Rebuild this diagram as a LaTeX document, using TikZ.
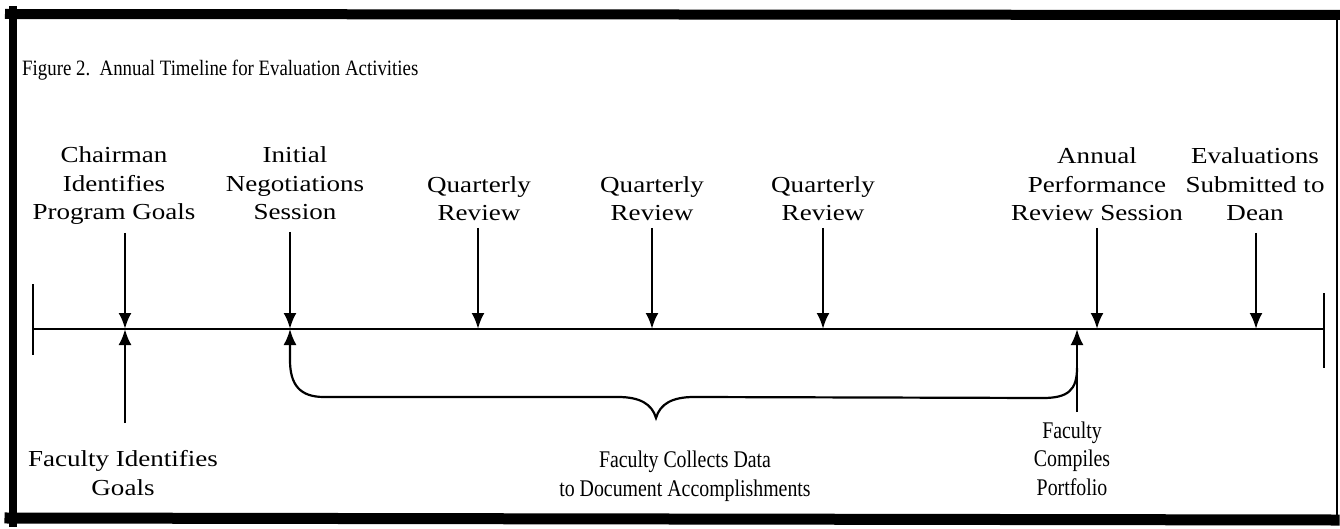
\documentclass[tikz,border=0pt]{standalone}
\usepackage{fontspec}
\setmainfont{Liberation Serif}
\newfontfamily\titlefont[FakeStretch=0.86]{Liberation Serif}
\newfontfamily\labelfont[FakeStretch=1.18]{Liberation Serif}
\newfontfamily\notefont[FakeStretch=0.83]{Liberation Serif}
\usetikzlibrary{arrows.meta}

\begin{document}
\begin{tikzpicture}[x=1bp,y=-1bp,
  % multi-line labels are placed by the baseline of their last line
  lbl/.style={align=center, inner sep=0pt, anchor=base,
    font=\labelfont\fontsize{23}{29}\selectfont},
  note/.style={align=center, inner sep=0pt, anchor=base,
    font=\notefont\fontsize{24}{28.5}\selectfont},
  rule/.style={line width=2.2bp},
  pointer/.style={line width=2.6bp, -{Latex[length=16bp,width=13bp]}},
  frame/.style={line width=#1, line cap=rect},
]
\useasboundingbox (0,0) rectangle (1340,529);

% frame
\draw[frame=8bp] (13,10) -- (13,523);
\draw[frame=10bp] (10,14) -- (1338,15);
\draw[frame=11bp] (10,518) -- (1334,520);
\draw[line width=2bp] (1337,18) -- (1337,524);

% title
\node[anchor=base west, inner sep=0pt, font=\titlefont\fontsize{22}{24}\selectfont]
  (title) at (22,76) {Figure 2.\ \ Annual Timeline for Evaluation Activities};

% time axis with end ticks
\coordinate (axL) at (33,329);
\coordinate (axR) at (1324,329);
\coordinate (tickLt) at (33,284);
\coordinate (tickLb) at (33,355);
\coordinate (tickRt) at (1324,293);
\coordinate (tickRb) at (1324,368);
\draw[rule] (axL) -- (axR);
\draw[rule] (tickLt) -- (tickLb);
\draw[rule] (tickRt) -- (tickRb);

% events above the axis
\node[lbl] (chair) at (114,220) {Chairman\\Identifies\\Program Goals};
\node[lbl] (init)  at (295,220) {Initial\\Negotiations\\Session};
\node[lbl] (qr1)   at (479,221) {Quarterly\\Review};
\node[lbl] (qr2)   at (652,221) {Quarterly\\Review};
\node[lbl] (qr3)   at (823,221) {Quarterly\\Review};
\node[lbl] (apr)   at (1097,221) {Annual\\Performance\\Review Session};
\node[lbl] (evl)   at (1255,221) {Evaluations\\Submitted to\\Dean};

\coordinate (chairTop) at (125,233); \coordinate (chairPt) at (125,329);
\coordinate (initTop)  at (290,232); \coordinate (initPt)  at (290,329);
\coordinate (qr1Top)   at (478,228); \coordinate (qr1Pt)   at (478,329);
\coordinate (qr2Top)   at (652,228); \coordinate (qr2Pt)   at (652,329);
\coordinate (qr3Top)   at (823,228); \coordinate (qr3Pt)   at (823,329);
\coordinate (aprTop)   at (1097,228); \coordinate (aprPt)  at (1097,329);
\coordinate (evlTop)   at (1256,233); \coordinate (evlPt)  at (1256,329);

\draw[pointer] (chairTop) -- (chairPt);
\draw[pointer] (initTop) -- (initPt);
\draw[pointer] (qr1Top) -- (qr1Pt);
\draw[pointer] (qr2Top) -- (qr2Pt);
\draw[pointer] (qr3Top) -- (qr3Pt);
\draw[pointer] (aprTop) -- (aprPt);
\draw[pointer] (evlTop) -- (evlPt);

% events below the axis
\node[lbl] (facgoal) at (123,495) {Faculty Identifies\\Goals};
\node[note] (collect) at (685,496) {Faculty Collects Data\\to Document Accomplishments};
\node[note] (compile) at (1072,495) {Faculty\\Compiles\\Portfolio};

\coordinate (facgoalBot) at (125,423);
\coordinate (compileBot) at (1077,412);
\coordinate (compilePt)  at (1077,329);
\draw[pointer] (facgoalBot) -- (chairPt);
\draw[pointer] (compileBot) -- (compilePt);

% brace spanning the data collection period
\coordinate (brDip) at (656,418);
\draw[line width=2.2bp, {Latex[length=16bp,width=13bp]}-]
  (initPt) -- (290,360)
  .. controls (290,385) and (300,397) .. (324,397)
  -- (618,397)
  .. controls (640,397) and (652,404) .. (brDip)
  .. controls (660,404) and (672,397) .. (694,397)
  -- (1043,398)
  .. controls (1068,398) and (1077,390) .. (1077,368);
\end{tikzpicture}
\end{document}
